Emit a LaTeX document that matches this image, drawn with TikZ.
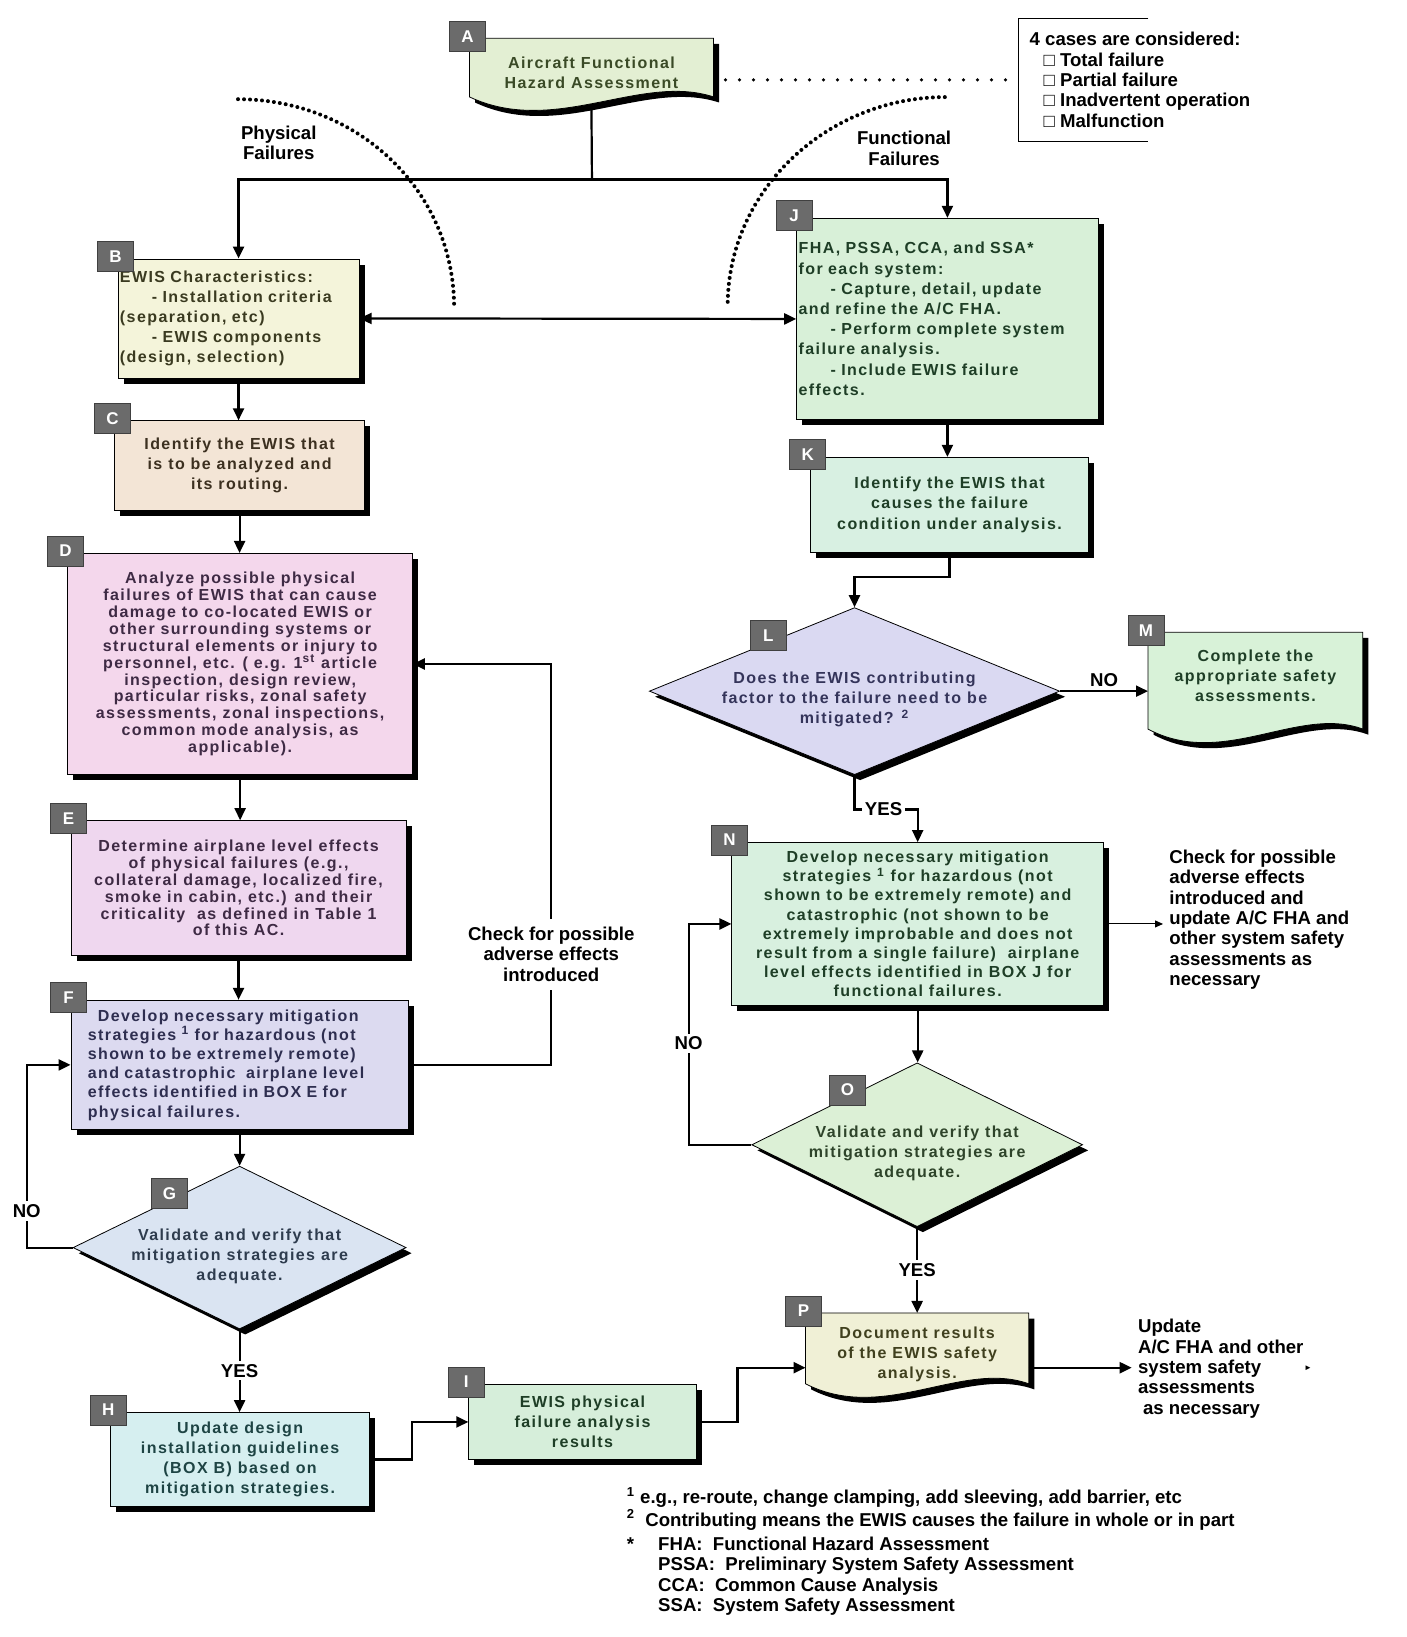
\documentclass[tikz,border=0pt]{standalone}
\usepackage{fontspec}
\setmainfont{Liberation Sans}
\newfontfamily\boxfont[LetterSpace=9]{Liberation Sans}
\usepackage{tikz}
\usetikzlibrary{
	shapes.geometric,
	arrows.meta,
	positioning,
	calc,
	shadows,
	backgrounds
}

\definecolor{fillA}{HTML}{E3EFD3}
\definecolor{fillB}{HTML}{F4F4DA}
\definecolor{fillC}{HTML}{F3E5D6}
\definecolor{fillD}{HTML}{F4D7EC}
\definecolor{fillE}{HTML}{EFD7EF}
\definecolor{fillF}{HTML}{DCDAF0}
\definecolor{fillG}{HTML}{DAE4F2}
\definecolor{fillH}{HTML}{D6EFF0}
\definecolor{fillI}{HTML}{D6EEDA}
\definecolor{fillJ}{HTML}{D8F0D8}
\definecolor{fillK}{HTML}{D8F0E2}
\definecolor{fillL}{HTML}{DAD9F2}
\definecolor{fillM}{HTML}{D8F2D8}
\definecolor{fillN}{HTML}{D8F0DF}
\definecolor{fillO}{HTML}{DCF0D6}
\definecolor{fillP}{HTML}{F0F0D6}

\definecolor{txtA}{HTML}{3A4A26}
\definecolor{txtB}{HTML}{3A3A20}
\definecolor{txtC}{HTML}{3C3020}
\definecolor{txtD}{HTML}{3E2A44}
\definecolor{txtF}{HTML}{2E2E50}
\definecolor{txtG}{HTML}{2E3C4E}
\definecolor{txtH}{HTML}{1E4444}
\definecolor{txtI}{HTML}{1E3E26}
\definecolor{txtL}{HTML}{34345A}
\definecolor{txtO}{HTML}{2E442A}
\definecolor{txtP}{HTML}{40401E}

% document shape: node, fill, lift of the side ends
\newcommand{\docshape}[3]{%
	\fill[black] ($(#1.north west)+(2.8pt,-2.8pt)$) -- ($(#1.north east)+(2.8pt,-2.8pt)$)
		-- ($(#1.south east)+(2.8pt,#3-2.8pt)$)
		.. controls ($(#1.south east)!0.3!(#1.south west)+(2.8pt,#3+9.2pt)$) and ($(#1.south east)!0.65!(#1.south west)+(2.8pt,#3-22.8pt)$)
		.. ($(#1.south west)+(2.8pt,#3-2.8pt)$) -- cycle;
	\filldraw[fill=#2, draw=black, line width=0.4pt] (#1.north west) -- (#1.north east)
		-- ($(#1.south east)+(0pt,#3)$)
		.. controls ($(#1.south east)!0.3!(#1.south west)+(0pt,#3+12pt)$) and ($(#1.south east)!0.65!(#1.south west)+(0pt,#3-20pt)$)
		.. ($(#1.south west)+(0pt,#3)$) -- cycle;
}

\begin{document}
\begin{tikzpicture}[x=0.5219pt, y=-0.5219pt,
		box/.style={
			rectangle, draw=black, line width=0.4pt, inner sep=1pt, align=center,
			drop shadow={shadow xshift=2.8pt, shadow yshift=-2.8pt, fill=black, opacity=1},
			font=\boxfont\bfseries\fontsize{8}{10.1}\selectfont
		},
		docbox/.style={
			rectangle, inner sep=1pt, align=center,
			font=\boxfont\bfseries\fontsize{8}{10.1}\selectfont
		},
		decision/.style={
			diamond, draw=black, line width=0.4pt, inner sep=0pt,
			drop shadow={shadow xshift=2.8pt, shadow yshift=-2.8pt, fill=black, opacity=1}
		},
		dtext/.style={
			align=center, inner sep=0pt,
			font=\boxfont\bfseries\fontsize{8}{10.1}\selectfont
		},
		tag/.style={
			rectangle, draw=black!75, fill=black!58, text=white, inner sep=0pt,
			minimum width=18pt, minimum height=15pt,
			font=\bfseries\fontsize{8.5}{9}\selectfont
		},
		note/.style={font=\bfseries\fontsize{9.3}{10.2}\selectfont},
		lbl/.style={fill=white, inner sep=1.5pt, font=\bfseries\fontsize{9.3}{10}\selectfont},
		link/.style={line width=1.1pt},
		arrow/.style={link, -{Triangle[length=6pt,width=5.5pt]}},
		twoway/.style={link, {Triangle[length=6pt,width=5.5pt]}-{Triangle[length=6pt,width=5.5pt]}},
		thinarrow/.style={line width=0.5pt, -{Triangle[length=4pt,width=3.5pt]}},
		dots/.style={line width=2pt, line cap=round, dash pattern=on 0pt off 3pt},
		sparsedots/.style={line width=1.8pt, line cap=round, dash pattern=on 0pt off 7pt},
	]
	\useasboundingbox (0,0) rectangle (1347,1568);

	%top
	\node[docbox, text=txtA, minimum width=121.6pt, minimum height=34.4pt] (A) at (566.5,70) {Aircraft Functional\\Hazard Assessment};
	\node[note, align=left, anchor=west, inner xsep=5.7pt, inner ysep=0pt, minimum height=61pt] (cases) at (975,76.5)
		{4 cases are considered:\\\hspace*{7pt}□ Total failure\\\hspace*{7pt}□ Partial failure\\\hspace*{7pt}□ Inadvertent operation\\\hspace*{7pt}□ Malfunction};
	\node[note, align=center] (phys) at (267,137) {Physical\\Failures};
	\node[note, align=center] (func) at (866,142) {Functional\\Failures};

	%left column
	\node[box, fill=fillB, text=txtB, minimum width=120.6pt, minimum height=59.5pt, text width=118.6pt, align=left] (B) at (228.5,305)
		{EWIS Characteristics:\\\hspace*{16pt}- Installation criteria\\(separation, etc)\\\hspace*{16pt}- EWIS components\\(design, selection)};
	\node[box, fill=fillC, text=txtC, minimum width=124.7pt, minimum height=44.9pt] (C) at (229.5,446)
		{Identify the EWIS that\\is to be analyzed and\\its routing.};
	\node[box, fill=fillD, text=txtD, minimum width=172.2pt, minimum height=110.6pt, font=\boxfont\bfseries\fontsize{8}{8.45}\selectfont] (D) at (230,636)
		{Analyze possible physical\\failures of EWIS that can cause\\damage to co-located EWIS or\\other surrounding systems or\\structural elements or injury to\\personnel, etc. ( e.g. 1\textsuperscript{st} article\\inspection, design review,\\particular risks, zonal safety\\assessments, zonal inspections,\\common mode analysis, as\\applicable).};
	\node[box, fill=fillE, text=txtD, minimum width=167.5pt, minimum height=67.3pt, font=\boxfont\bfseries\fontsize{8}{8.45}\selectfont] (E) at (228.5,850.5)
		{Determine airplane level effects\\of physical failures (e.g.,\\collateral damage, localized fire,\\smoke in cabin, etc.) and their\\criticality~ as defined in Table 1\\of this AC.};
	\node[box, fill=fillF, text=txtF, minimum width=168.6pt, minimum height=64.7pt, text width=151.8pt, inner xsep=8.4pt, align=left, font=\boxfont\bfseries\fontsize{8}{9.6}\selectfont] (F) at (229.5,1020)
		{\hspace*{5pt}Develop necessary mitigation\\strategies \textsuperscript{1} for hazardous (not\\shown to be extremely remote)\\and catastrophic~ airplane level\\effects identified in BOX E for\\physical failures.};
	\node[note, align=center, inner ysep=4pt] (chkF) at (528,914) {Check for possible\\adverse effects\\introduced};
	\node[decision, fill=fillG, minimum width=166.5pt, minimum height=81.4pt] (G) at (229.5,1195) {};
	\node[dtext, text=txtG] (Gtext) at ([yshift=-4.5pt]G.center) {Validate and verify that\\mitigation strategies are\\adequate.};
	\node[box, fill=fillH, text=txtH, minimum width=129.4pt, minimum height=47pt] (H) at (230,1398)
		{Update design\\installation guidelines\\(BOX B) based on\\mitigation strategies.};
	\node[box, fill=fillI, text=txtI, minimum width=113.8pt, minimum height=37.6pt] (I) at (558,1362)
		{EWIS physical\\failure analysis\\results};

	%right column
	\node[box, fill=fillJ, text=txtI, minimum width=150.8pt, minimum height=100.7pt, text width=148.8pt, align=left] (J) at (907.5,305.5)
		{FHA, PSSA, CCA, and SSA*\\for each system:\\\hspace*{16pt}- Capture, detail, update\\and refine the A/C FHA.\\\hspace*{16pt}- Perform complete system\\failure analysis.\\\hspace*{16pt}- Include EWIS failure\\effects.};
	\node[box, fill=fillK, text=txtI, minimum width=139.3pt, minimum height=47.5pt] (K) at (909.5,483.5)
		{Identify the EWIS that\\causes the failure\\condition under analysis.};
	\node[decision, fill=fillL, minimum width=205.1pt, minimum height=83.5pt] (L) at (818.5,662) {};
	\node[dtext, text=txtL] (Ltext) at ([yshift=-4.2pt]L.center) {Does the EWIS contributing\\factor to the failure need to be\\mitigated? \textsuperscript{2}};
	\node[docbox, text=txtI, minimum width=107pt, minimum height=42.8pt] (M) at (1202.5,647)
		{Complete the\\appropriate safety\\assessments.};
	\node[box, fill=fillN, text=txtI, minimum width=185.8pt, minimum height=81.4pt, font=\boxfont\bfseries\fontsize{8}{9.6}\selectfont] (N) at (879,885)
		{Develop necessary mitigation\\strategies \textsuperscript{1} for hazardous (not\\shown to be extremely remote) and\\catastrophic (not shown to be\\extremely improbable and does not\\result from a single failure)~ airplane\\level effects identified in BOX J for\\functional failures.};
	\node[note, align=left, anchor=west, inner sep=3pt] (chkN) at (1114,881)
		{Check for possible\\adverse effects\\introduced and\\update A/C FHA and\\other system safety\\assessments as\\necessary};
	\node[decision, fill=fillO, minimum width=165.4pt, minimum height=81.9pt] (O) at (878.5,1096.5) {};
	\node[dtext, text=txtO] (Otext) at ([yshift=-4.4pt]O.center) {Validate and verify that\\mitigation strategies are\\adequate.};
	\node[docbox, text=txtP, minimum width=111.2pt, minimum height=40.7pt] (P) at (878.5,1297)
		{Document results\\of the EWIS safety\\analysis.};
	\node[note, align=left, anchor=west, inner sep=3pt] (upd) at (1084,1311)
		{Update\\A/C FHA and other\\system safety\\assessments\\\hspace*{2.5pt}as necessary};
	\node[font=\fontsize{4}{4}\selectfont, inner sep=0pt] (tick) at (1253,1311) {►};

	%footnotes
	\node[note, align=left, anchor=north west, inner sep=0pt] (notes) at (600,1424)
		{\textsuperscript{1} e.g., re-route, change clamping, add sleeving, add barrier, etc\\
		\textsuperscript{2}~ Contributing means the EWIS causes the failure in whole or in part\\[1.8pt]
		\makebox[15.7pt][l]{*}FHA:~ Functional Hazard Assessment\\
		\hspace*{15.7pt}PSSA:~ Preliminary System Safety Assessment\\
		\hspace*{15.7pt}CCA:~ Common Cause Analysis\\
		\hspace*{15.7pt}SSA:~ System Safety Assessment};

	\begin{pgfonlayer}{background}
		\fill[white] (0,0) rectangle (1347,1568);
		\docshape{A}{fillA}{5.5pt}
		\docshape{M}{fillM}{-5.2pt}
		\docshape{P}{fillP}{5.7pt}
	\end{pgfonlayer}

	%tags
	\foreach \boxname in {A,B,C,D,E,F,H,I,J,K,M,N,P}
		\node[tag] (tag\boxname) at ([shift={(-1pt,1pt)}]\boxname.north west) {\boxname};
	\foreach \boxname in {G,L,O}
		\node[tag] (tag\boxname) at ($(\boxname.west)!0.58!(\boxname.north)+(0,3.5pt)$) {\boxname};

	%connectors
	\coordinate (split) at (567,172);
	\draw[sparsedots] (A.east |- cases.west) ++(6pt,0) -- (cases.west);
	\draw (cases.north west) ++(65.2pt,0) -- (cases.north west) -- (cases.south west) -- ++(65.2pt,0);
	\draw[dots] (228,95) .. controls (340,95) and (435,180) .. (435,295);
	\draw[dots] (905,93) .. controls (795,93) and (697,180) .. (697,293);

	\draw[link] ([yshift=1pt]A.south) -- (split);
	\draw[arrow] (split) -| (B.north);
	\draw[arrow] (split) -| (J.north);
	\draw[twoway] (B.east) -- (J.west);

	\draw[arrow] (B.south) -- (B.south |- C.north);
	\draw[arrow] (C.south) -- (C.south |- D.north);
	\draw[arrow] (D.south) -- (D.south |- E.north);
	\draw[arrow] (E.south) -- (E.south |- F.north);
	\draw[arrow] (F.south) -- (F.south |- G.north);
	\draw[link] (F.east) -| (chkF.south);
	\draw[arrow] (chkF.north) |- (D.east);
	\draw[arrow] (G.west) -- ++(-44,0) |- node[lbl, pos=0.1] {NO} (F.west);
	\draw[arrow] (G.south) -- node[lbl] {YES} (G.south |- H.north);
	\draw[arrow] (H.east) -- ++(40,0) |- (I.west);
	\draw[arrow] (I.east) -- ++(39,0) |- ([yshift=-6.8pt]P.west);

	\draw[arrow] (J.south) -- (J.south |- K.north);
	\draw[arrow] (K.south) -- ++(0,23) -| (L.north);
	\draw[arrow] (L.east) -- node[lbl, above] {NO} (L.east -| M.west);
	\draw[arrow] (L.south) -- ++(0,33) -| node[lbl, pos=0.23] {YES} (N.north);
	\draw[thinarrow] (N.east) -- (N.east -| chkN.west);
	\draw[arrow] (N.south) -- (N.south |- O.north);
	\draw[arrow] (O.west) -- ++(-60,0) |- node[lbl, pos=0.23] {NO} (N.west);
	\draw[arrow] (O.south) -- node[lbl] {YES} (O.south |- P.north);
	\draw[arrow] ([yshift=-6.8pt]P.east) -- ([yshift=-6.8pt]P.east -| upd.west);
\end{tikzpicture}
\end{document}
